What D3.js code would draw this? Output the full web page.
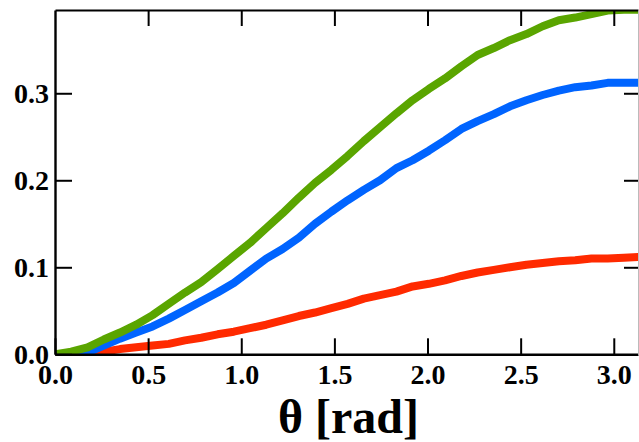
<!DOCTYPE html>
<html>
<head>
<meta charset="utf-8">
<script src="https://cdn.jsdelivr.net/npm/d3@7"></script>
<style>
  html, body { margin: 0; padding: 0; background: #fff; }
  svg { display: block; }
</style>
</head>
<body>
<svg id="chart" width="639" height="442"></svg>
<script>
// Angle samples (rad), step of pi/36
const theta = [0.000, 0.087, 0.175, 0.262, 0.349, 0.436, 0.524, 0.611, 0.698, 0.785,
  0.873, 0.960, 1.047, 1.134, 1.222, 1.309, 1.396, 1.484, 1.571, 1.658,
  1.745, 1.833, 1.920, 2.007, 2.094, 2.182, 2.269, 2.356, 2.443, 2.531,
  2.618, 2.705, 2.793, 2.880, 2.967, 3.054, 3.142];

const greenSeries = [0.000, 0.003, 0.008, 0.017, 0.025, 0.034, 0.045, 0.058, 0.071, 0.083,
  0.098, 0.113, 0.128, 0.145, 0.162, 0.180, 0.197, 0.212, 0.228, 0.245,
  0.261, 0.277, 0.292, 0.305, 0.317, 0.331, 0.344, 0.352, 0.361, 0.368,
  0.377, 0.384, 0.387, 0.391, 0.395, 0.396, 0.396];

const blueSeries = [0.000, 0.000, 0.002, 0.010, 0.018, 0.025, 0.032, 0.041, 0.051, 0.061,
  0.071, 0.082, 0.096, 0.110, 0.121, 0.134, 0.150, 0.164, 0.177, 0.189,
  0.200, 0.214, 0.223, 0.234, 0.246, 0.259, 0.268, 0.276, 0.285, 0.292,
  0.298, 0.303, 0.307, 0.309, 0.312, 0.312, 0.312];

const redSeries = [0.000, 0.000, 0.001, 0.003, 0.006, 0.008, 0.010, 0.012, 0.016, 0.019,
  0.023, 0.026, 0.030, 0.034, 0.039, 0.044, 0.048, 0.053, 0.058, 0.064,
  0.068, 0.072, 0.078, 0.081, 0.085, 0.090, 0.094, 0.097, 0.100, 0.103,
  0.105, 0.107, 0.108, 0.110, 0.110, 0.111, 0.112];

const xTicks = [0.0, 0.5, 1.0, 1.5, 2.0, 2.5, 3.0];
const yTicks = [0.0, 0.1, 0.2, 0.3];
const xTitle = "θ [rad]";

const series = [
  { values: redSeries,   color: "#ff2a00" },
  { values: blueSeries,  color: "#0064ff" },
  { values: greenSeries, color: "#5aa500" }
];

const serif = "'Liberation Serif', 'Times New Roman', serif";
const plotLeft = 55, plotRight = 638, plotTop = 10, plotBottom = 354.3;
const svg = d3.select("#chart");

const x = d3.scaleLinear().domain([0, 3.13]).range([plotLeft, plotRight]);
const y = d3.scaleLinear().domain([0, 0.3957]).range([plotBottom, plotTop]);

svg.append("defs").append("clipPath").attr("id", "plot-clip")
  .append("rect").attr("x", plotLeft).attr("y", plotTop)
  .attr("width", plotRight - plotLeft).attr("height", plotBottom - plotTop);

// Data lines
const line = d3.line().x((d, i) => x(theta[i])).y(d => y(d));
svg.append("g").attr("clip-path", "url(#plot-clip)")
  .selectAll("path").data(series).join("path")
  .attr("d", s => line(s.values))
  .attr("fill", "none")
  .attr("stroke", s => s.color)
  .attr("stroke-width", 8)
  .attr("stroke-linejoin", "round");

function styleLabels(g) {
  g.attr("font-family", serif).attr("font-size", 28).attr("font-weight", "bold");
  g.selectAll(".tick text").attr("fill", "#000");
}

// Bottom axis with inward ticks
const xAxis = svg.append("g").attr("transform", `translate(0,${plotBottom})`)
  .call(d3.axisBottom(x).tickValues(xTicks).tickFormat(d3.format(".1f"))
    .tickSizeInner(-16).tickSizeOuter(0).tickPadding(10));
xAxis.call(styleLabels);
xAxis.select(".domain").attr("stroke-width", 2.4);
xAxis.selectAll(".tick line").attr("stroke-width", 2);

// Left axis with inward ticks
const yAxis = svg.append("g").attr("transform", `translate(${plotLeft},0)`)
  .call(d3.axisLeft(y).tickValues(yTicks).tickFormat(d3.format(".1f"))
    .tickSizeInner(-17).tickSizeOuter(0).tickPadding(6));
yAxis.call(styleLabels);
yAxis.select(".domain").attr("stroke-width", 2.4);
yAxis.selectAll(".tick line").attr("stroke-width", 2);

// Top mirror axis
const xTop = svg.append("g").attr("transform", `translate(0,${plotTop})`)
  .call(d3.axisTop(x).tickValues(xTicks.filter(v => v > 0)).tickFormat("")
    .tickSizeInner(-16).tickSizeOuter(0));
xTop.select(".domain").attr("stroke-width", 2.2);
xTop.selectAll(".tick line").attr("stroke-width", 2);

// Right mirror axis
const yRight = svg.append("g").attr("transform", `translate(${plotRight},0)`)
  .call(d3.axisRight(y).tickValues(yTicks.filter(v => v > 0)).tickFormat("")
    .tickSizeInner(-14).tickSizeOuter(0));
yRight.select(".domain").attr("stroke", "#bbb").attr("stroke-width", 1);
yRight.selectAll(".tick line").attr("stroke-width", 2);

// Axis title
svg.append("text")
  .attr("x", (plotLeft + plotRight) / 2 + 2)
  .attr("y", 433)
  .attr("text-anchor", "middle")
  .attr("font-family", serif)
  .attr("font-weight", "bold")
  .attr("font-size", 48)
  .attr("fill", "#000")
  .text(xTitle);
</script>
</body>
</html>
